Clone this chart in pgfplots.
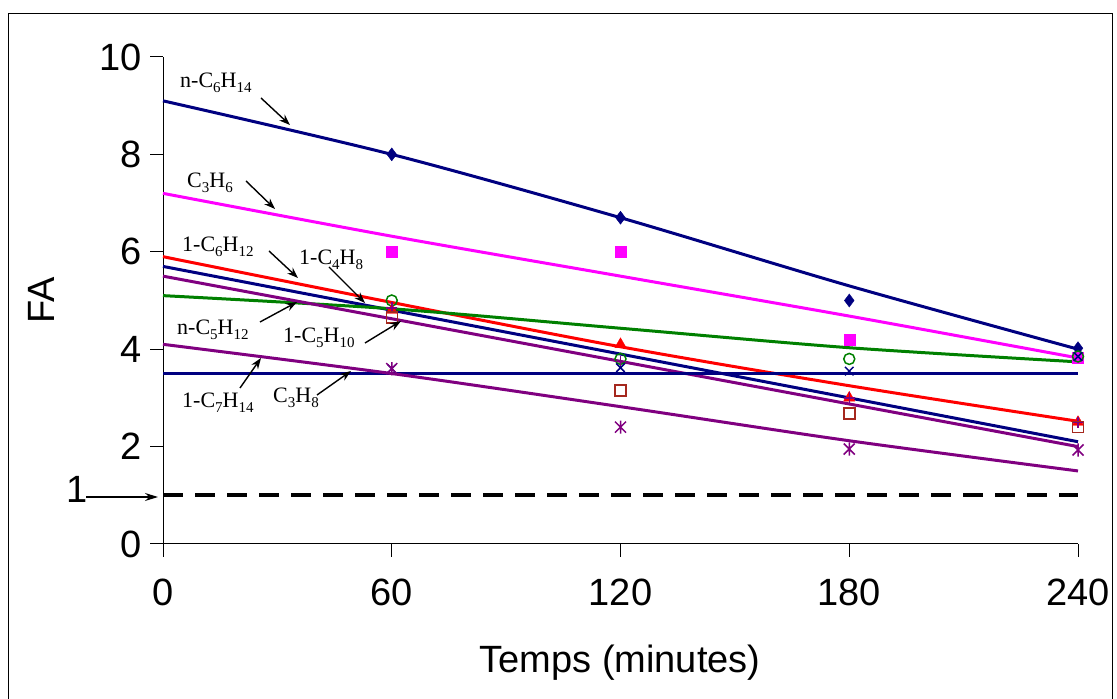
\documentclass[border=0pt]{standalone}
\usepackage{fontspec}
\setmainfont{Liberation Sans}
\newfontfamily\tnr{Liberation Serif}
\usepackage{pgfplots}
\pgfplotsset{compat=1.18}
\usetikzlibrary{arrows.meta}
\definecolor{navy}{RGB}{0,0,128}
\definecolor{mag}{RGB}{255,0,255}
\definecolor{dgreen}{RGB}{0,128,0}
\definecolor{purp}{RGB}{128,0,128}
\definecolor{dred}{RGB}{165,40,30}
\newcommand\sub[1]{\raisebox{-5pt}{\fontsize{15}{15}\selectfont #1}}
\newcommand\lab[1]{{\tnr\fontsize{22}{22}\selectfont #1}}
\pgfdeclareplotmark{xstar}{%
 \pgfpathmoveto{\pgfqpoint{-\pgfplotmarksize}{-\pgfplotmarksize}}%
 \pgfpathlineto{\pgfqpoint{\pgfplotmarksize}{\pgfplotmarksize}}%
 \pgfpathmoveto{\pgfqpoint{-\pgfplotmarksize}{\pgfplotmarksize}}%
 \pgfpathlineto{\pgfqpoint{\pgfplotmarksize}{-\pgfplotmarksize}}%
 \pgfpathmoveto{\pgfqpoint{0pt}{-1.2\pgfplotmarksize}}%
 \pgfpathlineto{\pgfqpoint{0pt}{1.2\pgfplotmarksize}}%
 \pgfusepathqstroke}
\begin{document}
\begin{tikzpicture}[x=1pt,y=1pt]
\useasboundingbox (0,0) rectangle (1117,699);
\draw[line width=1pt] (8,-10) rectangle (1112,685);
\begin{axis}[at={(163pt,155pt)}, anchor=south west, scale only axis,
  width=915pt, height=487pt, xmin=0, xmax=240, ymin=0, ymax=10,
  axis x line=bottom, axis y line=left, axis line style={-, line width=1pt},
  tick style={black, line width=1pt}, tick align=outside, major tick length=13pt,
  xtick={0,60,120,180,240}, ytick={0,2,4,6,8,10},
  /pgf/number format/assume math mode=true,
  ticklabel style={font=\fontsize{38}{38}\selectfont},
  xticklabel style={yshift=-18pt},
  yticklabel style={xshift=-5pt},
  clip=false]
% trend lines
\addplot[navy, line width=3pt, smooth] coordinates {(0,9.1) (60,8.0) (120,6.7) (180,5.3) (240,4.0)};
\addplot[mag, line width=3pt, smooth] coordinates {(0,7.2) (60,6.32) (120,5.5) (180,4.68) (240,3.82)};
\addplot[red, line width=3pt, smooth] coordinates {(0,5.9) (60,4.96) (120,4.05) (180,3.25) (240,2.52)};
\addplot[navy, line width=3pt] coordinates {(0,5.7) (240,2.1)};
\addplot[dgreen, line width=3pt, smooth] coordinates {(0,5.1) (60,4.83) (120,4.43) (180,4.03) (240,3.74)};
\addplot[purp, line width=3pt] coordinates {(0,5.5) (240,2.0)};
\addplot[navy, line width=3pt] coordinates {(0,3.5) (240,3.5)};
\addplot[purp, line width=3pt, smooth] coordinates {(0,4.1) (60,3.5) (120,2.82) (180,2.12) (240,1.5)};
\addplot[black, line width=4pt, dash pattern=on 20pt off 12pt] coordinates {(0,1) (240,1)};
% markers
\addplot[only marks, navy, mark=diamond*, mark size=6.5pt] coordinates {(60,8.0) (120,6.7) (180,5.0) (240,4.02)};
\addplot[only marks, mag, mark=square*, mark size=5.5pt] coordinates {(60,6.0) (120,6.0) (180,4.2) (240,3.82)};
\addplot[only marks, dgreen, mark=o, mark size=5.5pt, line width=1.5pt] coordinates {(60,5.0) (120,3.8) (180,3.8) (240,3.85)};
\addplot[only marks, red, mark=triangle*, mark size=6.5pt] coordinates {(60,4.8) (120,4.1) (180,3.0) (240,2.5)};
\addplot[only marks, purp, mark=+, mark size=5.5pt, line width=1.5pt] coordinates {(60,4.85) (120,3.75) (180,3.0) (240,2.5)};
\addplot[only marks, dred, mark=square, mark size=5.5pt, line width=1.5pt] coordinates {(60,4.65) (120,3.15) (180,2.68) (240,2.4)};
\addplot[only marks, navy, mark=x, mark size=6pt, line width=1.5pt] coordinates {(60,3.6) (120,3.62) (180,3.55) (240,3.85)};
\addplot[only marks, purp, mark=xstar, mark size=5.5pt, line width=1.5pt] coordinates {(60,3.6) (120,2.4) (180,1.95) (240,1.93)};
\end{axis}
% axis titles
\node[anchor=base] at (620,26) {\fontsize{38}{38}\selectfont Temps (minutes)};
\node[rotate=90, anchor=base] at (54,399) {\fontsize{38}{38}\selectfont FA};
\node[anchor=base, inner sep=0pt] at (77,196) {\fontsize{38}{38}\selectfont 1};
\draw[line width=1.3pt, -{Stealth[length=13pt,width=8pt]}] (86,202) -- (158,202);
% annotations
\tikzset{arr/.style={line width=1.4pt, -{Stealth[length=11pt,width=8pt]}}}
\node[anchor=base west, inner sep=0pt] at (180,611) {\lab{n-C\sub{6}H\sub{14}}};
\draw[arr] (261,601) -- (290,574);
\node[anchor=base west, inner sep=0pt] at (187,511) {\lab{C\sub{3}H\sub{6}}};
\draw[arr] (246,518) -- (275,490);
\node[anchor=base west, inner sep=0pt] at (182,447) {\lab{1-C\sub{6}H\sub{12}}};
\draw[arr] (269,448) -- (298,421);
\node[anchor=base west, inner sep=0pt] at (299,434) {\lab{1-C\sub{4}H\sub{8}}};
\draw[arr] (329,432) -- (365,396);
\node[anchor=base west, inner sep=0pt] at (177,364) {\lab{n-C\sub{5}H\sub{12}}};
\draw[arr] (260,377) -- (297,397);
\node[anchor=base west, inner sep=0pt] at (283,356) {\lab{1-C\sub{5}H\sub{10}}};
\draw[arr] (365,356) -- (401,378);
\node[anchor=base west, inner sep=0pt] at (182,291) {\lab{1-C\sub{7}H\sub{14}}};
\draw[arr] (240,311) -- (261,341);
\node[anchor=base west, inner sep=0pt] at (273,296) {\lab{C\sub{3}H\sub{8}}};
\draw[arr] (317,304) -- (351,328);
\end{tikzpicture}
\end{document}
